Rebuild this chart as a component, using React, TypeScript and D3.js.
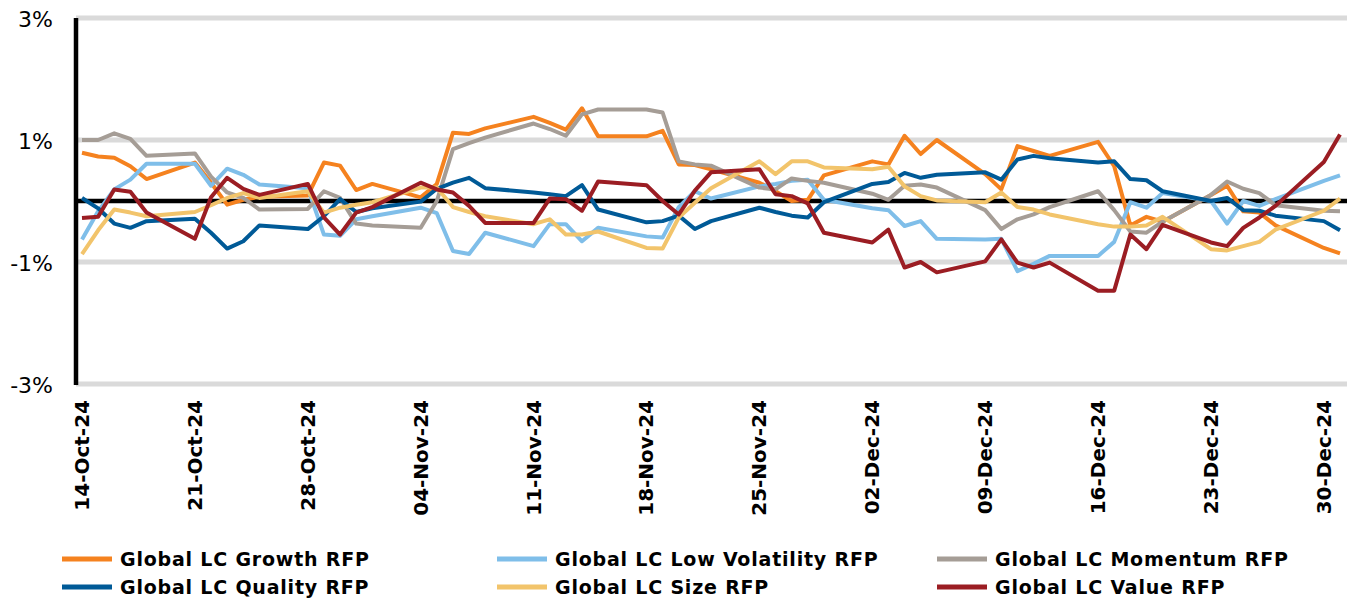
import React, { useEffect, useRef } from "react";
import * as d3 from "d3";

// ---- data (daily % moves) ----
const dates = [
  "2024-10-14", "2024-10-15", "2024-10-16", "2024-10-17", "2024-10-18",
  "2024-10-21", "2024-10-22", "2024-10-23", "2024-10-24", "2024-10-25",
  "2024-10-28", "2024-10-29", "2024-10-30", "2024-10-31", "2024-11-01",
  "2024-11-04", "2024-11-05", "2024-11-06", "2024-11-07", "2024-11-08",
  "2024-11-11", "2024-11-12", "2024-11-13", "2024-11-14", "2024-11-15",
  "2024-11-18", "2024-11-19", "2024-11-20", "2024-11-21", "2024-11-22",
  "2024-11-25", "2024-11-26", "2024-11-27", "2024-11-28", "2024-11-29",
  "2024-12-02", "2024-12-03", "2024-12-04", "2024-12-05", "2024-12-06",
  "2024-12-09", "2024-12-10", "2024-12-11", "2024-12-12", "2024-12-13",
  "2024-12-16", "2024-12-17", "2024-12-18", "2024-12-19", "2024-12-20",
  "2024-12-23", "2024-12-24", "2024-12-25", "2024-12-26", "2024-12-27",
  "2024-12-30", "2024-12-31",
];

const growth = [
  0.79, 0.73, 0.71, 0.57, 0.36,
  0.63, 0.3, -0.06, 0.02, 0.07,
  0.09, 0.63, 0.58, 0.18, 0.28,
  0.06, 0.28, 1.12, 1.1, 1.19,
  1.38, 1.28, 1.17, 1.52, 1.06,
  1.06, 1.15, 0.6, 0.59, 0.52,
  0.3, 0.16, 0.0, 0.02, 0.42,
  0.65, 0.6, 1.07, 0.77, 1.0,
  0.44, 0.19, 0.9, 0.82, 0.74,
  0.97, 0.57, -0.4, -0.26, -0.34,
  0.1, 0.25, -0.17, -0.19, -0.4,
  -0.77, -0.86,
];

const lowVol = [
  -0.63, -0.17, 0.19, 0.35, 0.61,
  0.61, 0.25, 0.53, 0.43, 0.27,
  0.21, -0.55, -0.57, -0.3, -0.25,
  -0.11, -0.2, -0.82, -0.87, -0.52,
  -0.74, -0.38, -0.38, -0.66, -0.44,
  -0.58, -0.6, -0.1, 0.16, 0.04,
  0.24, 0.28, 0.33, 0.35, 0.02,
  -0.12, -0.15, -0.41, -0.33, -0.62,
  -0.63, -0.62, -1.15, -1.03, -0.9,
  -0.9, -0.67, -0.02, -0.11, 0.13,
  0.0, -0.37, 0.0, -0.08, 0.03,
  0.33, 0.42,
];

const momentum = [
  1.0, 1.0, 1.11, 1.02, 0.74,
  0.78, 0.4, 0.14, 0.05, -0.14,
  -0.13, 0.16, 0.05, -0.37, -0.4,
  -0.44, 0.0, 0.85, 0.95, 1.04,
  1.27, 1.18, 1.07, 1.42, 1.5,
  1.5, 1.45, 0.65, 0.6, 0.58,
  0.22, 0.19, 0.37, 0.33, 0.3,
  0.12, 0.02, 0.25, 0.27, 0.22,
  -0.15, -0.46, -0.3, -0.22, -0.1,
  0.16, -0.15, -0.5, -0.52, -0.34,
  0.1, 0.32, 0.2, 0.13, -0.07,
  -0.16, -0.17,
];

const quality = [
  0.05, -0.12, -0.37, -0.44, -0.33,
  -0.29, -0.52, -0.78, -0.66, -0.4,
  -0.46, -0.25, 0.03, -0.18, -0.12,
  -0.01, 0.2, 0.3, 0.38, 0.21,
  0.14, 0.11, 0.08, 0.26, -0.14,
  -0.35, -0.33, -0.24, -0.46, -0.33,
  -0.11, -0.18, -0.24, -0.27, -0.02,
  0.28, 0.31, 0.46, 0.38, 0.43,
  0.47, 0.35, 0.68, 0.74, 0.7,
  0.63, 0.65, 0.36, 0.34, 0.16,
  0.0, 0.05, -0.15, -0.16, -0.24,
  -0.33, -0.48,
];

const size = [
  -0.87, -0.48, -0.14, -0.19, -0.25,
  -0.18, -0.07, 0.05, 0.13, 0.05,
  0.16, -0.19, -0.11, -0.06, -0.02,
  0.22, 0.22, -0.1, -0.18, -0.25,
  -0.38, -0.3, -0.55, -0.55, -0.5,
  -0.77, -0.78, -0.27, -0.03, 0.21,
  0.65, 0.44, 0.65, 0.65, 0.55,
  0.52, 0.56, 0.24, 0.08, 0.01,
  -0.02, 0.14, -0.1, -0.14, -0.22,
  -0.38, -0.42, -0.42, -0.4, -0.26,
  -0.79, -0.81, -0.74, -0.67, -0.47,
  -0.16, 0.04,
];

const value = [
  -0.28, -0.26, 0.19, 0.15, -0.19,
  -0.62, 0.06, 0.38, 0.2, 0.1,
  0.28, -0.27, -0.55, -0.19, -0.1,
  0.3, 0.19, 0.14, -0.08, -0.36,
  -0.36, 0.04, 0.03, -0.16, 0.32,
  0.26, 0.0, -0.22, 0.17, 0.47,
  0.52, 0.11, 0.08, -0.04, -0.52,
  -0.68, -0.47, -1.09, -1.0, -1.17,
  -0.99, -0.63, -1.01, -1.09, -1.01,
  -1.47, -1.47, -0.55, -0.79, -0.39,
  -0.68, -0.74, -0.44, -0.27, -0.08,
  0.64, 1.09,
];

const seriesNames = [
  "Global LC Growth RFP",
  "Global LC Low Volatility RFP",
  "Global LC Momentum RFP",
  "Global LC Quality RFP",
  "Global LC Size RFP",
  "Global LC Value RFP",
];
const seriesValues = [growth, lowVol, momentum, quality, size, value];
const seriesColors = ["#f5821f", "#7fbee9", "#a59d96", "#005a97", "#f2c46b", "#9b1d23"];

const yTicks = [3, 1, -1, -3];

function App() {
  const ref = useRef<SVGSVGElement>(null);

  useEffect(() => {
    const width = 1347;
    const svg = d3.select(ref.current);
    svg.selectAll("*").remove();

    const parse = d3.utcParse("%Y-%m-%d");
    const xDates = dates.map((d) => parse(d) as Date);

    // ---- scales ----
    const xScale = d3
      .scaleUtc()
      .domain([xDates[0], xDates[xDates.length - 1]])
      .range([82, 1340]);

    const yScale = d3.scaleLinear().domain([-3, 3]).range([384, 18]);

    const font = "'DejaVu Sans', sans-serif";

    // ---- gridlines ----
    svg
      .append("g")
      .selectAll("line")
      .data(yTicks)
      .join("line")
      .attr("x1", 76)
      .attr("x2", width)
      .attr("y1", (d) => yScale(d))
      .attr("y2", (d) => yScale(d))
      .attr("stroke", "#dadada")
      .attr("stroke-width", 5);

    // y labels
    svg
      .append("g")
      .selectAll("text")
      .data(yTicks)
      .join("text")
      .attr("x", 53)
      .attr("y", (d) => yScale(d) + 9)
      .attr("text-anchor", "end")
      .style("font-family", font)
      .style("font-size", "22px")
      .attr("fill", "#000")
      .text((d) => `${d}%`);

    // zero line
    svg
      .append("line")
      .attr("x1", 76)
      .attr("x2", width)
      .attr("y1", yScale(0))
      .attr("y2", yScale(0))
      .attr("stroke", "#000")
      .attr("stroke-width", 4.5);

    // left axis
    svg
      .append("line")
      .attr("x1", 76)
      .attr("x2", 76)
      .attr("y1", yScale(3))
      .attr("y2", yScale(-3) + 1)
      .attr("stroke", "#000")
      .attr("stroke-width", 4.5);

    // ---- x tick labels (Mondays) ----
    const ticks = d3.utcMonday.range(xDates[0], d3.utcDay.offset(xDates[xDates.length - 1], 1));
    const fmt = d3.utcFormat("%d-%b-%y");
    svg
      .append("g")
      .selectAll("text")
      .data(ticks)
      .join("text")
      .attr("transform", (d) => `translate(${xScale(d) + 7},400) rotate(-90)`)
      .attr("text-anchor", "end")
      .style("font-family", font)
      .style("font-size", "20px")
      .style("font-weight", "bold")
      .attr("fill", "#000")
      .text((d) => fmt(d));

    // ---- lines ----
    const line = d3
      .line<number>()
      .x((_, i) => xScale(xDates[i]))
      .y((d) => yScale(d));

    svg
      .append("g")
      .selectAll("path")
      .data(seriesValues)
      .join("path")
      .attr("d", (d) => line(d))
      .attr("fill", "none")
      .attr("stroke", (_, i) => seriesColors[i])
      .attr("stroke-width", 4)
      .attr("stroke-linejoin", "round");

    // ---- legend ----
    const colX = [62, 497, 937];
    const rowY = [559, 587];
    const legend = svg
      .append("g")
      .selectAll("g")
      .data(seriesNames)
      .join("g")
      .attr("transform", (_, i) => `translate(${colX[i % 3]},${rowY[Math.floor(i / 3)]})`);

    legend
      .append("line")
      .attr("x1", 0)
      .attr("x2", 50)
      .attr("stroke", (_, i) => seriesColors[i])
      .attr("stroke-width", 5);

    legend
      .append("text")
      .attr("x", 58)
      .attr("y", 7)
      .style("font-family", font)
      .style("font-size", "19px")
      .style("font-weight", "bold")
      .style("letter-spacing", "0.8px")
      .attr("fill", "#000")
      .text((d) => d);
  }, []);

  return (
    <>
      <style>{"body{margin:0}"}</style>
      <svg ref={ref} width={1347} height={605} style={{ display: "block", background: "#fff" }} />
    </>
  );
}

export default App;
